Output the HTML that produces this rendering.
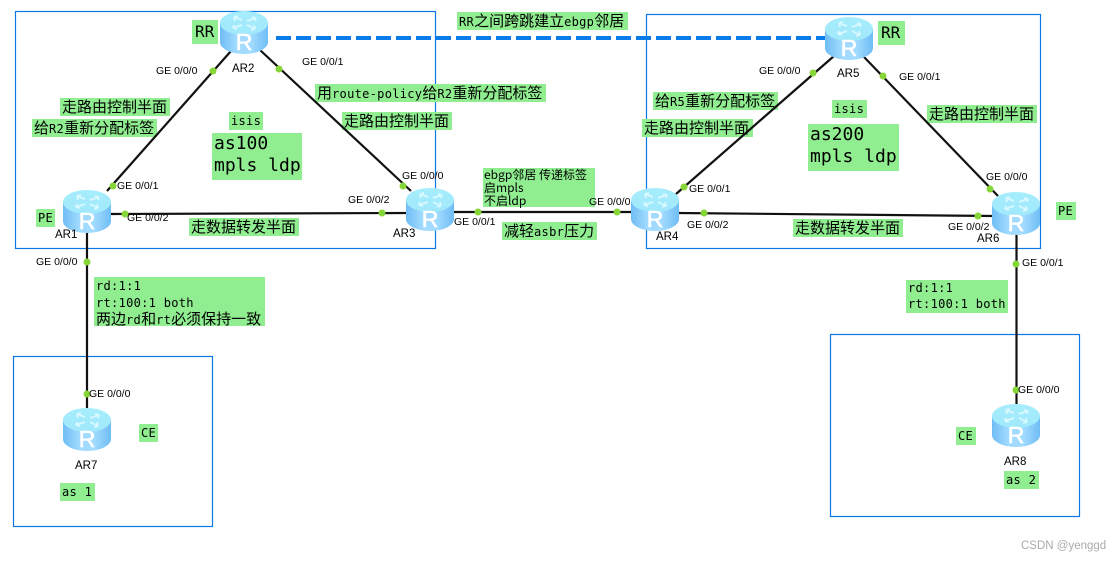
<!DOCTYPE html>
<html lang="zh-CN">
<head>
<meta charset="utf-8">
<title>MPLS inter-AS topology</title>
<style>
html,body{margin:0;padding:0;background:#fff}
#p{position:relative;width:1115px;height:562px;overflow:hidden;background:#fff}
svg{position:absolute;left:0;top:0}
.g{position:absolute;background:#90ee90;white-space:nowrap;font:15px/18px "WenQuanYi Zen Hei","Noto Sans CJK SC",sans-serif;color:#000;box-sizing:border-box;padding-left:2px;overflow:visible}
.m{font:12px/18px "DejaVu Sans Mono","Liberation Mono",monospace;letter-spacing:.3px}
.b{font:18px/22px "DejaVu Sans Mono","Liberation Mono",monospace;padding-left:2px}
.r{font:16px/24px "DejaVu Sans Mono","Liberation Mono",monospace;padding-left:3px}
.s{font:12px/13px "WenQuanYi Zen Hei","Noto Sans CJK SC",sans-serif;padding-left:1px}
.t{position:absolute;white-space:nowrap;font:10.5px/12px "Liberation Sans",Arial,sans-serif;color:#000}
.n{font-size:11.5px}
</style>
</head>
<body>
<div id="p">
<svg width="1115" height="562" fill="none" stroke="#0a78e6" stroke-width="1.2">
<rect x="15.5" y="11.5" width="420" height="237"/>
<rect x="646.5" y="14.5" width="394" height="234"/>
<rect x="13.5" y="356.5" width="199" height="170"/>
<rect x="830.5" y="334.5" width="249" height="182"/>
</svg>

<div class="g r" style="left:192px;top:20px;width:26px;height:24px">RR</div>
<div class="g" style="left:60px;top:98px;width:110px;height:18px">走路由控制半面</div>
<div class="g" style="left:32px;top:119px;width:125px;height:18px">给<span class="m">R2</span>重新分配标签</div>
<div class="g m" style="left:229px;top:112px;width:34px;height:18px">isis</div>
<div class="g b" style="left:212px;top:133px;width:90px;height:47px">as100<br>mpls ldp</div>
<div class="g" style="left:189px;top:218px;width:110px;height:18px">走数据转发半面</div>
<div class="g m" style="left:36px;top:209px;width:19px;height:18px">PE</div>
<div class="g" style="left:94px;top:277px;width:171px;height:49px;line-height:16px"><span class="m" style="line-height:16px">rd:1:1</span><br><span class="m" style="line-height:16px">rt:100:1 both</span><br>两边<span class="m" style="line-height:16px">rd</span>和<span class="m" style="line-height:16px">rt</span>必须保持一致</div>
<div class="g" style="left:457px;top:12px;width:171px;height:18px"><span class="m">RR</span>之间跨跳建立<span class="m">ebgp</span>邻居</div>
<div class="g" style="left:315px;top:84px;width:231px;height:18px">用<span class="m">route-policy</span>给<span class="m">R2</span>重新分配标签</div>
<div class="g" style="left:342px;top:112px;width:110px;height:18px">走路由控制半面</div>
<div class="g s" style="left:483px;top:168px;width:112px;height:39px">ebgp邻居 传递标签<br>启mpls<br>不启ldp</div>
<div class="g" style="left:502px;top:222px;width:95px;height:18px">减轻<span class="m">asbr</span>压力</div>
<div class="g" style="left:653px;top:92px;width:125px;height:18px">给<span class="m">R5</span>重新分配标签</div>
<div class="g" style="left:642px;top:119px;width:111px;height:18px">走路由控制半面</div>
<div class="g m" style="left:832px;top:100px;width:35px;height:18px">isis</div>
<div class="g b" style="left:808px;top:124px;width:91px;height:47px">as200<br>mpls ldp</div>
<div class="g" style="left:793px;top:219px;width:110px;height:18px">走数据转发半面</div>
<div class="g r" style="left:878px;top:21px;width:27px;height:24px">RR</div>
<div class="g" style="left:927px;top:105px;width:110px;height:18px">走路由控制半面</div>
<div class="g m" style="left:1056px;top:202px;width:20px;height:18px">PE</div>
<div class="g m" style="left:906px;top:280px;width:102px;height:33px;line-height:16px">rd:1:1<br>rt:100:1 both</div>
<div class="g m" style="left:139px;top:424px;width:19px;height:18px">CE</div>
<div class="g m" style="left:60px;top:483px;width:35px;height:18px">as 1</div>
<div class="g m" style="left:956px;top:427px;width:20px;height:18px">CE</div>
<div class="g m" style="left:1004px;top:471px;width:35px;height:18px">as 2</div>

<svg width="1115" height="562">
<defs>
<linearGradient id="side" x1="0" x2="1" y1="0" y2="0">
<stop offset="0" stop-color="#6fbdf5"/><stop offset=".35" stop-color="#a2dbff"/><stop offset=".65" stop-color="#a2dbff"/><stop offset="1" stop-color="#6fbdf5"/>
</linearGradient>
<linearGradient id="top" x1="0" x2="0" y1="0" y2="1">
<stop offset="0" stop-color="#a6eefd"/><stop offset="1" stop-color="#a0e8fb"/>
</linearGradient>
<symbol id="rt" viewBox="0 0 48 43" width="48" height="43" overflow="visible">
<path d="M0 12V31A24 12 0 0 0 48 31V12Z" fill="url(#side)"/>
<ellipse cx="24" cy="12" rx="24" ry="12" fill="url(#top)"/>
<g fill="none" stroke="#d9f8ff" stroke-width="1.8">
<path d="M14 6l8 3M14 6l1 4M14 6l4 -1"/><path d="M36 7l-9 3M36 7l-4 -1M36 7l-1 3"/>
<path d="M13 17l9 -3M13 17l4 1M13 17l1 -3"/><path d="M35 18l-8 -4M35 18l-1 -4M35 18l-4 1"/>
</g>
</symbol>
</defs>

<g stroke="#111" stroke-width="2.2" fill="none">
<path d="M231 51L107 191"/>
<path d="M260 50L411 191"/>
<path d="M110 214L408 213"/>
<path d="M452 212L633 212"/>
<path d="M677 213L994 216"/>
<path d="M676 194L834 56"/>
<path d="M864 57L998 196"/>
<path d="M87 231V409"/>
<path d="M1016.5 233V405"/>
</g>
<path d="M276 38H826" stroke="#0a7be8" stroke-width="4" stroke-dasharray="15 5" fill="none"/>

<g fill="#86d637">
<circle cx="213" cy="71" r="3.5"/><circle cx="113" cy="186" r="3.5"/>
<circle cx="279" cy="69" r="3.5"/><circle cx="403" cy="186" r="3.5"/>
<circle cx="125" cy="214" r="3.5"/><circle cx="382" cy="213" r="3.5"/>
<circle cx="478" cy="212" r="3.5"/><circle cx="617" cy="212" r="3.5"/>
<circle cx="704" cy="213" r="3.5"/><circle cx="978" cy="216" r="3.5"/>
<circle cx="684" cy="187" r="3.5"/><circle cx="813" cy="73" r="3.5"/>
<circle cx="883" cy="76" r="3.5"/><circle cx="990" cy="189" r="3.5"/>
<circle cx="87" cy="262" r="3.5"/><circle cx="87" cy="394" r="3.5"/>
<circle cx="1016" cy="264" r="3.5"/><circle cx="1016" cy="390" r="3.5"/>
</g>

<use href="#rt" x="63" y="190"/>
<use href="#rt" x="220" y="11"/>
<use href="#rt" x="406" y="188"/>
<use href="#rt" x="631" y="188"/>
<use href="#rt" x="825" y="17"/>
<use href="#rt" x="992" y="192"/>
<use href="#rt" x="63" y="408"/>
<use href="#rt" x="992" y="404"/>

<g fill="#fff" stroke="#fff" stroke-width=".6" font-family="Liberation Sans, sans-serif" font-size="23" text-anchor="middle">
<text x="87" y="229">R</text>
<text x="244" y="50">R</text>
<text x="430" y="227">R</text>
<text x="655" y="227">R</text>
<text x="849" y="56">R</text>
<text x="1016" y="231">R</text>
<text x="87" y="447">R</text>
<text x="1016" y="443">R</text>
</g>
</svg>

<div class="t" style="left:156px;top:65px">GE 0/0/0</div>
<div class="t" style="left:117px;top:180px">GE 0/0/1</div>
<div class="t" style="left:302px;top:56px">GE 0/0/1</div>
<div class="t" style="left:127px;top:212px">GE 0/0/2</div>
<div class="t" style="left:36px;top:256px">GE 0/0/0</div>
<div class="t" style="left:402px;top:170px">GE 0/0/0</div>
<div class="t" style="left:348px;top:194px">GE 0/0/2</div>
<div class="t" style="left:454px;top:216px">GE 0/0/1</div>
<div class="t" style="left:589px;top:196px">GE 0/0/0</div>
<div class="t" style="left:689px;top:183px">GE 0/0/1</div>
<div class="t" style="left:687px;top:219px">GE 0/0/2</div>
<div class="t" style="left:759px;top:65px">GE 0/0/0</div>
<div class="t" style="left:899px;top:71px">GE 0/0/1</div>
<div class="t" style="left:986px;top:171px">GE 0/0/0</div>
<div class="t" style="left:948px;top:221px">GE 0/0/2</div>
<div class="t" style="left:1022px;top:257px">GE 0/0/1</div>
<div class="t" style="left:89px;top:388px">GE 0/0/0</div>
<div class="t" style="left:1018px;top:384px">GE 0/0/0</div>

<div class="t n" style="left:232px;top:63px">AR2</div>
<div class="t n" style="left:55px;top:229px">AR1</div>
<div class="t n" style="left:393px;top:228px">AR3</div>
<div class="t n" style="left:656px;top:231px">AR4</div>
<div class="t n" style="left:837px;top:68px">AR5</div>
<div class="t n" style="left:977px;top:233px">AR6</div>
<div class="t n" style="left:75px;top:460px">AR7</div>
<div class="t n" style="left:1004px;top:456px">AR8</div>

<div class="t" style="left:1021px;top:540px;color:#aaa;font-size:11.5px">CSDN @yenggd</div>
</div>
</body>
</html>
